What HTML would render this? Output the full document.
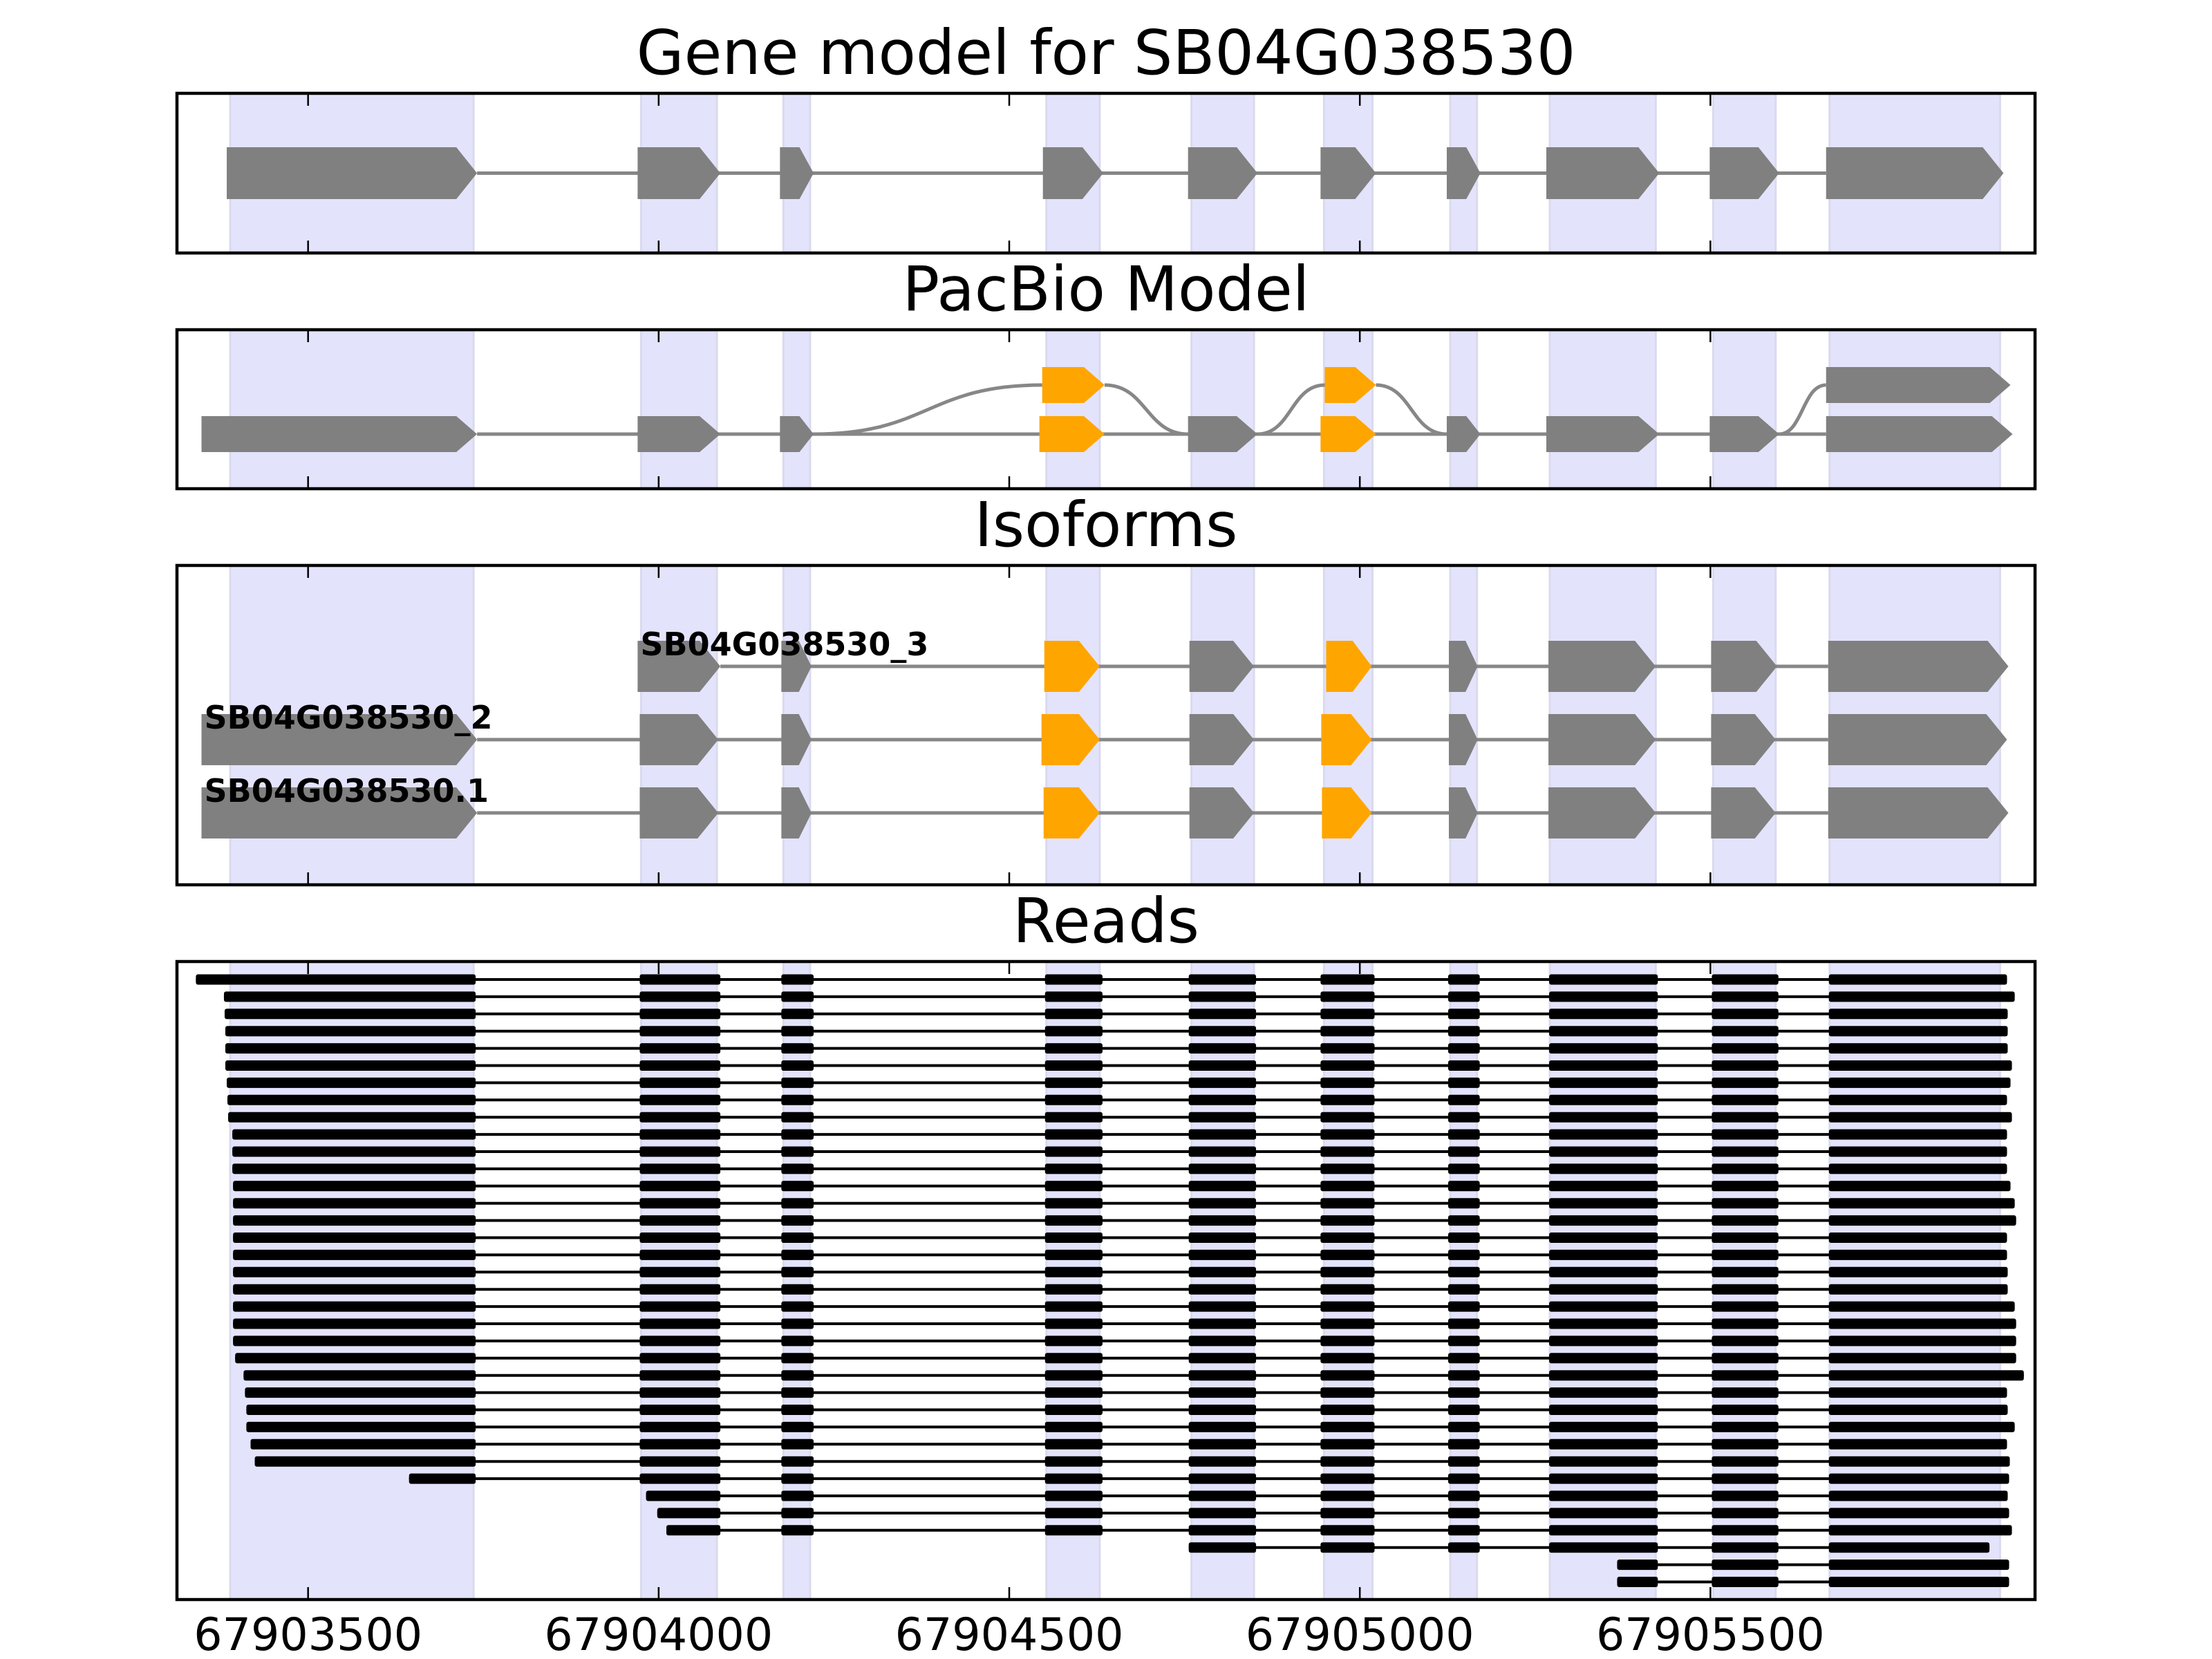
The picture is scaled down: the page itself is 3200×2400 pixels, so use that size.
<!DOCTYPE html>
<html><head><meta charset="utf-8"><style>
html,body{margin:0;padding:0;background:#fff;}
svg{display:block;}
text{font-family:"DejaVu Sans","Liberation Sans",sans-serif;}
</style></head>
<body>
<svg id="fig" xmlns="http://www.w3.org/2000/svg" width="3200" height="2400" viewBox="0 0 3200 2400">
<rect x="0" y="0" width="3200" height="2400" fill="#fff"/>
<g id="layer"></g>
</svg>
<script>
// ---- data ----
const xDomain = [67903313, 67905963];
const tickValues = [67903500, 67904000, 67904500, 67905000, 67905500];
const tickLabels = ["67903500", "67904000", "67904500", "67905000", "67905500"];
const panelTitles = ["Gene model for SB04G038530", "PacBio Model", "Isoforms", "Reads"];
const geneExons = [[67903384,67903741],[67903970,67904088],[67904173,67904221],[67904548,67904634],[67904755,67904854],[67904944,67905023],[67905124,67905172],[67905266,67905427],[67905499,67905598],[67905665,67905918]];
const pbLower = [[67903348,67903741],[67903970,67904088],[67904173,67904221],[67904543,67904636],[67904755,67904854],[67904944,67905023],[67905124,67905172],[67905266,67905427],[67905499,67905598],[67905665,67905931]];
const pbLowerOrange = [3, 5];
const pbUpper = [[67904547,67904636],[67904950,67905023],[67905665,67905928]];
const pbUpperOrange = [0, 1];
// links: [fromTrack, fromIdx, toTrack, toIdx] (0=lower,1=upper)
const pbLinks = [[0,2,1,0],[1,0,0,4],[0,4,1,1],[1,1,0,6],[0,8,1,2]];
const isoNames = ["SB04G038530_3", "SB04G038530_2", "SB04G038530.1"];
const iso3 = [[67903970,67904088],[67904175,67904218],[67904550,67904629],[67904757,67904849],[67904952,67905017],[67905127,67905168],[67905269,67905422],[67905501,67905595],[67905668,67905925]];
const iso2 = [[67903348,67903741],[67903973,67904085],[67904175,67904218],[67904546,67904629],[67904757,67904849],[67904945,67905017],[67905127,67905168],[67905269,67905422],[67905501,67905593],[67905668,67905923]];
const iso1 = [[67903348,67903741],[67903973,67904085],[67904175,67904218],[67904549,67904629],[67904757,67904849],[67904946,67905017],[67905127,67905168],[67905269,67905422],[67905501,67905593],[67905668,67905925]];
const iso3Orange = [2, 4];
const iso2Orange = [3, 5];
const iso1Orange = [3, 5];
const readExons = [[67903340,67903739],[67903973,67904088],[67904175,67904221],[67904551,67904633],[67904756,67904852],[67904944,67905021],[67905126,67905171],[67905270,67905425],[67905502,67905597],[67905669,67905950]];
const readStarts = [67903340,67903380,67903381,67903382,67903382,67903382,67903384,67903385,67903386,67903392,67903392,67903392,67903393,67903393,67903393,67903393,67903393,67903393,67903393,67903393,67903393,67903393,67903396,67903408,67903410,67903412,67903412,67903418,67903424,67903644,67903982,67903998,67904011,67904756,67905367,67905367];
const readEnds = [67905923,67905934,67905924,67905924,67905924,67905930,67905928,67905923,67905930,67905923,67905923,67905923,67905928,67905934,67905936,67905923,67905923,67905924,67905924,67905934,67905936,67905936,67905936,67905947,67905923,67905924,67905934,67905923,67905927,67905926,67905924,67905926,67905930,67905898,67905926,67905926];

// ---- layout ----
const AX_L = 256, AX_R = 2944;
const panels = [{top:135,bottom:366},{top:477,bottom:707},{top:818,bottom:1280},{top:1391,bottom:2314}];
const NS = "http://www.w3.org/2000/svg";
const layer = document.getElementById("layer");
function x(v){ return AX_L + (v - xDomain[0]) * (AX_R - AX_L) / (xDomain[1] - xDomain[0]); }
function mk(tag, attrs, parent){ const e = document.createElementNS(NS, tag); for (const k in attrs) e.setAttribute(k, attrs[k]); (parent||layer).appendChild(e); return e; }
const GRAY = "#808080", LINEGRAY = "#878787", ORANGE = "#ffa500";

function arrow(g, s, e, yc, h, color, name){
  const x1 = x(s), x2 = x(e), w = x2 - x1;
  const tip = Math.min(30, 0.42 * w);
  const p = mk("polygon", {points:`${x1},${yc-h/2} ${x2-tip},${yc-h/2} ${x2},${yc} ${x2-tip},${yc+h/2} ${x1},${yc+h/2}`, fill:color}, g);
  
  
}

panels.forEach((p, i) => {
  const g = mk("g", {});
  
  
  p.g = g;
  geneExons.forEach((ex, j) => {
    const r = mk("rect", {x:x(ex[0])+5, y:p.top, width:x(ex[1])-x(ex[0])-10, height:p.bottom-p.top, fill:"#e3e3fc", stroke:"#dadaee", "stroke-width":3}, g);
    
    
  });
  const t = mk("text", {x:1600, y:p.top-28, "text-anchor":"middle", "font-size":89, fill:"#000"}, g);
  t.textContent = panelTitles[i];
  
  
});

// Panel 1: gene model
(function(){
  const p = panels[0], yc = (p.top+p.bottom)/2;
  const l = mk("line", {x1:x(geneExons[0][1]), x2:x(geneExons[geneExons.length-1][0]), y1:yc, y2:yc, stroke:LINEGRAY, "stroke-width":5}, p.g);
  
  
  geneExons.forEach((ex, j) => arrow(p.g, ex[0], ex[1], yc, 75, GRAY, 'gene-exon-' + (j+1)));
})();

// Panel 2: PacBio
(function(){
  const p = panels[1], yl = 628, yu = 557;
  const l = mk("line", {x1:x(pbLower[0][1]), x2:x(pbLower[pbLower.length-1][0]), y1:yl, y2:yl, stroke:LINEGRAY, "stroke-width":5}, p.g);
  
  
  const tracks = [pbLower, pbUpper], ys = [yl, yu];
  pbLinks.forEach(k => {
    const x1 = x(tracks[k[0]][k[1]][1]), y1 = ys[k[0]];
    const x2 = x(tracks[k[2]][k[3]][0]), y2 = ys[k[2]];
    const xm = (x1 + x2) / 2;
    const c = mk("path", {d:`M${x1},${y1} C${xm},${y1} ${xm},${y2} ${x2},${y2}`, fill:"none", stroke:LINEGRAY, "stroke-width":5}, p.g);
    
    
  });
  pbLower.forEach((ex, j) => arrow(p.g, ex[0], ex[1], yl, 52, pbLowerOrange.includes(j) ? ORANGE : GRAY, 'pacbio-lower-exon-' + (j+1)));
  pbUpper.forEach((ex, j) => arrow(p.g, ex[0], ex[1], yu, 52, pbUpperOrange.includes(j) ? ORANGE : GRAY, 'pacbio-upper-exon-' + (j+1)));
})();

// Panel 3: Isoforms
(function(){
  const p = panels[2];
  const isos = [iso3, iso2, iso1], oranges = [iso3Orange, iso2Orange, iso1Orange], ys = [964, 1070, 1176];
  isos.forEach((iso, i) => {
    const yc = ys[i];
    const l = mk("line", {x1:x(iso[0][1]), x2:x(iso[iso.length-1][0]), y1:yc, y2:yc, stroke:LINEGRAY, "stroke-width":5}, p.g);
    
    
    iso.forEach((ex, j) => arrow(p.g, ex[0], ex[1], yc, 74, oranges[i].includes(j) ? ORANGE : GRAY, 'isoform-exon'));
    const t = mk("text", {x:x(iso[0][0])+4, y:yc-16, "font-size":46, "font-weight":"bold", fill:"#000"}, p.g);
    t.textContent = isoNames[i];
    
    
  });
})();

// Panel 4: Reads
(function(){
  const p = panels[3], y0 = 1417, dy = 24.9;
  readStarts.forEach((s, i) => {
    const e = readEnds[i], yc = y0 + i * dy;
    const g = mk("g", {}, p.g);
    
    
    const l = mk("line", {x1:x(s), x2:x(e), y1:yc, y2:yc, stroke:"#000", "stroke-width":4}, g);
    
    
    readExons.forEach((ex) => {
      if (ex[1] <= s || ex[0] >= e) return;
      const a = Math.max(ex[0], s), b = Math.min(ex[1], e);
      const r = mk("rect", {x:x(a), y:yc-7.5, width:x(b)-x(a), height:15, rx:3, fill:"#000"}, g);
      
      
    });
  });
})();

// axes frames + ticks
panels.forEach((p, i) => {
  tickValues.forEach(v => {
    const t1 = mk("line", {x1:x(v), x2:x(v), y1:p.top, y2:p.top+18, stroke:"#000", "stroke-width":2.5}, p.g);
    
    
    const t2 = mk("line", {x1:x(v), x2:x(v), y1:p.bottom, y2:p.bottom-18, stroke:"#000", "stroke-width":2.5}, p.g);
    
    
  });
  const f = mk("rect", {x:AX_L, y:p.top, width:AX_R-AX_L, height:p.bottom-p.top, fill:"none", stroke:"#000", "stroke-width":4.5}, p.g);
  
  
});
tickValues.forEach((v, i) => {
  const t = mk("text", {x:x(v), y:2387, "text-anchor":"middle", "font-size":65, fill:"#000"});
  t.textContent = tickLabels[i];
  
  
});
</script>
</body></html>
